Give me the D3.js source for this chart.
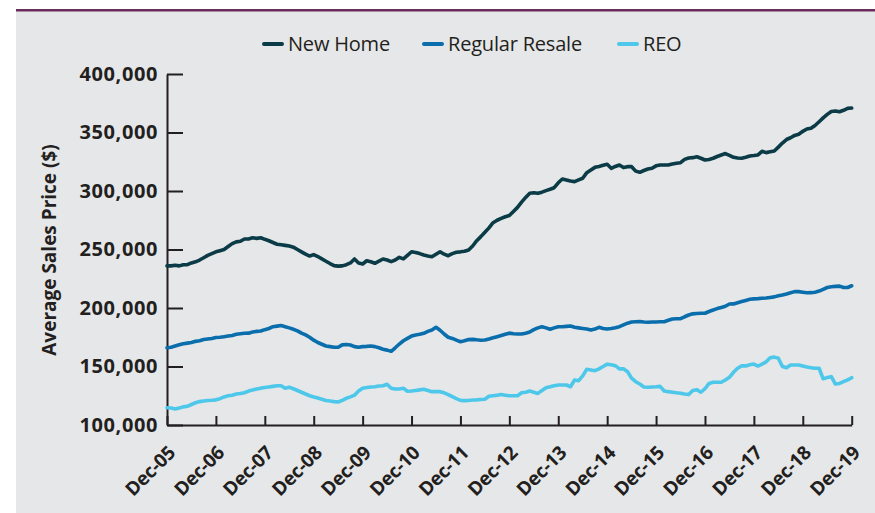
<!DOCTYPE html>
<html>
<head>
<meta charset="utf-8">
<script src="https://cdn.jsdelivr.net/npm/d3@7"></script>
<style>
  body { margin: 0; background: #fff; }
  svg { display: block; }
</style>
</head>
<body>
<div id="chart"></div>
<script>
// Monthly average sales price, thousands of dollars, Dec-05 .. Dec-19
var newHome = [
  236, 236, 236.5, 236, 237, 237, 238.5, 239.5, 241, 243, 245, 246.5,
  248, 249, 250, 252.5, 255, 256.5, 257, 259, 259, 260, 259.5, 260,
  258.7, 257.5, 256, 254.5, 254, 253.5, 253, 252, 250, 248, 246, 244.4,
  245.6, 244, 242, 240, 238, 236.2, 235.8, 236, 237, 238.5, 241.9, 238.5,
  237.6, 240.4, 239.5, 238.2, 240, 241.9, 241, 239.6, 241, 243.3, 242, 245,
  248.1, 247.5, 246.5, 245.3, 244.5, 243.8, 246, 248.1, 246, 244.7, 246.5, 247.6,
  248, 248.5, 249.6, 253, 257.5, 261, 264.7, 268.5, 272.9, 275, 276.6, 278,
  279, 282.5, 286, 290.5, 294.5, 298, 298.5, 298, 299, 300.3, 301.5, 302.8,
  307, 310.3, 309.4, 308.5, 308, 309.5, 310.9, 315.7, 318, 320.2, 321, 322,
  322.8, 319.4, 321, 322.2, 320, 320.8, 320.8, 317, 316, 317.5, 318.8, 319.4,
  321.5, 322.2, 322.2, 322.2, 323, 323.7, 324.2, 327, 328.2, 328.5, 329.3, 328,
  326.5, 327, 328, 329.5, 330.8, 332, 330.5, 328.8, 328.2, 328, 328.8, 329.9,
  330.3, 330.8, 333.9, 332.8, 333.5, 334.2, 337.5, 341, 344, 345.5, 347.5, 348.5,
  351, 353, 353.6, 356, 359.2, 362.5, 365.5, 368, 368.4, 367.8, 369, 370.6,
  370.9
];

var regularResale = [
  166, 166.5, 167.5, 168.5, 169.5, 170, 170.5, 171.5, 172, 173, 173.5, 174,
  174.8, 175, 175.5, 176, 176.5, 177.5, 178, 178.4, 178.5, 179.5, 180, 180.3,
  181.5, 182.5, 184, 184.5, 185, 184, 183, 181.8, 180.5, 178.5, 177, 175,
  172.5, 170.5, 169, 167.5, 167, 166.5, 166.4, 168.5, 168.8, 168.4, 167, 166.4,
  167, 167.2, 167.5, 167, 166, 164.7, 164, 163, 166, 169.2, 172, 174,
  176, 177, 177.5, 178.4, 180, 181.2, 183.5, 181, 177.8, 175, 174, 172.5,
  171.2, 172, 173, 173.2, 172.8, 172.5, 172.6, 173.5, 174.5, 175.5, 176.5, 177.5,
  178.5, 178, 177.8, 177.8, 178.5, 179.5, 181.5, 183, 184, 183, 181.8, 183,
  184, 184, 184.3, 184.6, 183.5, 183, 182.5, 182, 181.2, 182, 183.5, 182.5,
  182.1, 182.5, 183.2, 184, 185.5, 187, 188, 188.3, 188.5, 188, 187.8, 188,
  188, 188.2, 188.3, 189.5, 190.6, 190.8, 190.9, 192.5, 194, 195, 195.3, 195.5,
  195.5, 197, 198.3, 199.5, 200.5, 201.5, 203.4, 203.5, 204.5, 205.5, 206.5, 207.5,
  207.8, 208, 208.3, 208.5, 209, 209.5, 210.5, 211.1, 212, 213, 214, 214,
  213.5, 213, 213.1, 213.5, 214.5, 216, 217.5, 218.2, 218.5, 218.7, 217.5, 217.5,
  219
];

var reo = [
  114.8, 114.5, 113.7, 114.5, 115.5, 116, 117.5, 119, 120, 120.5, 121, 121.2,
  121.5, 122.5, 124, 125, 125.5, 126.5, 127, 127.6, 129, 130, 130.8, 131.5,
  132, 132.5, 133, 133.5, 133.6, 131.4, 132.2, 131, 129.5, 128, 126.5, 125,
  124, 123, 122, 121, 120.5, 120, 119.7, 121, 122.8, 124, 125.5, 129,
  131.4, 132, 132.5, 132.7, 133.3, 133.5, 134.8, 131.4, 130.8, 130.8, 131.4, 128.8,
  129, 129.5, 130, 130.5, 129.5, 128.5, 128.5, 128.5, 127.5, 126, 124.2, 122.5,
  121, 120.8, 121, 121.4, 121.5, 121.8, 122, 124.5, 125, 125.5, 126, 125.5,
  125, 125, 125, 127.5, 128, 129, 128, 127, 129.5, 131.9, 132.7, 133.6,
  134.2, 134.2, 134.2, 132.7, 138.5, 137.9, 142, 147.6, 147, 146.4, 148, 150,
  152, 151.5, 150.7, 148, 148, 145.6, 140, 137, 135, 132.5, 132.2, 132.5,
  132.7, 133, 129.1, 128.5, 128, 127.5, 127.1, 126.5, 126, 129.5, 130.2, 128,
  131, 135.5, 136.5, 136.5, 136.5, 138.5, 140.8, 145, 148.5, 150.5, 150.5, 151.5,
  152.1, 150.4, 152, 154, 157.5, 158, 157, 150, 149, 151.3, 151.3, 151.3,
  150.5, 149.5, 149, 148.5, 148.5, 139.5, 140.5, 141.3, 135, 135.5, 137, 138.5,
  140.4
];

var tickLabels = ["Dec-05", "Dec-06", "Dec-07", "Dec-08", "Dec-09", "Dec-10", "Dec-11",
  "Dec-12", "Dec-13", "Dec-14", "Dec-15", "Dec-16", "Dec-17", "Dec-18", "Dec-19"];
var yTicks = [100000, 150000, 200000, 250000, 300000, 350000, 400000];
var seriesNames = ["New Home", "Regular Resale", "REO"];
var seriesColors = ["#0a3b47", "#0a6ead", "#4ec8ea"];

var W = 875, H = 513;
var svg = d3.select("#chart").append("svg")
  .attr("width", W)
  .attr("height", H);

// panel background and top rule
svg.append("rect")
  .attr("x", 16).attr("y", 11)
  .attr("width", W - 16).attr("height", H - 11)
  .attr("fill", "#e6e7e8");
svg.append("rect")
  .attr("x", 16).attr("y", 9)
  .attr("width", W - 16).attr("height", 2.5)
  .attr("fill", "#6a2c5b");

var x = d3.scaleLinear().domain([0, 168]).range([167, 851.7]);
var y = d3.scaleLinear().domain([100000, 400000]).range([425, 74]);

var ink = "#231f20";

// y axis
var yAxis = svg.append("g")
  .attr("transform", "translate(" + x(0) + ",0)")
  .call(d3.axisLeft(y)
    .tickValues(yTicks)
    .tickSizeInner(-16)
    .tickSizeOuter(0)
    .tickPadding(9)
    .tickFormat(d3.format(",")));

yAxis.selectAll("text")
  .style("font-family", "'Open Sans', sans-serif")
  .style("font-weight", "700")
  .style("font-size", "20px")
  .style("letter-spacing", "0.6px")
  .attr("fill", ink);

// x axis
var xAxis = svg.append("g")
  .attr("transform", "translate(0," + y(100000) + ")")
  .call(d3.axisBottom(x)
    .tickValues(d3.range(0, 169, 12))
    .tickSizeInner(-9)
    .tickSizeOuter(0)
    .tickFormat(function (d, i) { return tickLabels[i]; }));

xAxis.selectAll("text")
  .attr("y", null)
  .attr("dy", null)
  .attr("text-anchor", "end")
  .attr("transform", "translate(9,29) rotate(-45)")
  .style("font-family", "'Open Sans', sans-serif")
  .style("font-weight", "700")
  .style("font-size", "19px")
  .style("letter-spacing", "-0.3px")
  .attr("fill", ink);

svg.selectAll(".domain, .tick line")
  .attr("stroke", ink)
  .attr("stroke-width", 2);

// y axis title
svg.append("text")
  .attr("transform", "translate(56,250) rotate(-90)")
  .attr("text-anchor", "middle")
  .style("font-family", "'Open Sans', sans-serif")
  .style("font-weight", "700")
  .style("font-size", "19px")
  .attr("fill", ink)
  .text("Average Sales Price ($)");

// lines
var line = d3.line()
  .x(function (d, i) { return x(i); })
  .y(function (d) { return y(d * 1000); });

var allSeries = [newHome, regularResale, reo];
svg.append("g")
  .selectAll("path")
  .data(allSeries)
  .enter().append("path")
  .attr("d", line)
  .attr("fill", "none")
  .attr("stroke", function (d, i) { return seriesColors[i]; })
  .attr("stroke-width", 3.6)
  .attr("stroke-linejoin", "round")
  .attr("stroke-linecap", "round");

// legend
var legendX = [264, 424, 619];
var legend = svg.append("g")
  .selectAll("g")
  .data(seriesNames)
  .enter().append("g")
  .attr("transform", function (d, i) { return "translate(" + legendX[i] + ",44)"; });

legend.append("line")
  .attr("x1", 0).attr("x2", 18)
  .attr("stroke", function (d, i) { return seriesColors[i]; })
  .attr("stroke-width", 4)
  .attr("stroke-linecap", "round");

legend.append("text")
  .attr("x", 24)
  .attr("dy", "0.35em")
  .style("font-family", "'Open Sans', sans-serif")
  .style("font-weight", "500")
  .style("font-size", "20px")
  .style("letter-spacing", "-0.2px")
  .attr("fill", ink)
  .text(function (d) { return d; });
</script>
</body>
</html>
